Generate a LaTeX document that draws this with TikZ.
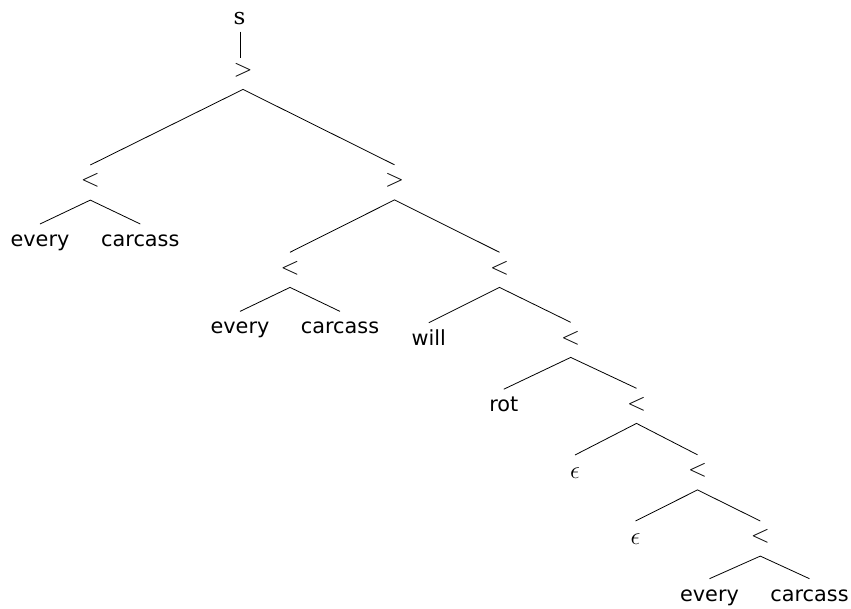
\documentclass[tikz,border=0pt]{standalone}
\usepackage{fontspec}
\usetikzlibrary{calc}
\newfontfamily\wordfont{DejaVu Sans}
\newfontfamily\rootfont{DejaVu Serif}
\begin{document}
\begin{tikzpicture}[x=1pt,y=-1pt,
  sym/.style={inner sep=0pt, font=\fontsize{27.8}{30}\selectfont},
  rootlbl/.style={inner sep=0pt, anchor=base, font=\rootfont\fontsize{23}{26}\selectfont},
  word/.style={inner sep=0pt, anchor=base, font=\wordfont\fontsize{20.8}{24}\selectfont},
  eps/.style={inner sep=0pt, anchor=base, font=\fontsize{26}{28}\selectfont},
  edge/.style={line width=0.8pt}]
\useasboundingbox (0,0) rectangle (851,608);
\fill[white] (0,0) rectangle (851,608);

\node[rootlbl] (s) at (239.5,24.5) {s};
\node[sym] (n0) at (243,70) {$>$};
\node[sym] (n1) at (90.3,180.7) {$<$};
\node[word] (w1) at (40,246.3) {every};
\node[word] (w2) at (140.3,246.3) {carcass};
\node[sym] (n2) at (394.5,180.5) {$>$};
\node[sym] (n3) at (290,268) {$<$};
\node[word] (w3) at (240,333.7) {every};
\node[word] (w4) at (340,333.7) {carcass};
\node[sym] (n4) at (499.5,268) {$<$};
\node[word] (w5) at (428.8,345) {will};
\node[sym] (n5) at (570.7,338) {$<$};
\node[word] (w6) at (503.8,411.5) {rot};
\node[sym] (n6) at (636.5,404) {$<$};
\node[eps] (e1) at (575,478) {$\epsilon$};
\node[sym] (n7) at (697.5,470.5) {$<$};
\node[eps] (e2) at (635.5,544) {$\epsilon$};
\node[sym] (n8) at (760.3,536.7) {$<$};
\node[word] (w7) at (709.5,601) {every};
\node[word] (w8) at (809.5,601) {carcass};

\draw[edge] ([xshift=0.8pt,yshift=-7pt]s.base) -- ($(s.base |- n0.center)+(0.8,-11.7)$);
% parent apex to children
\draw[edge] ([yshift=15.7pt]n1.center) -- ([yshift=-19.4pt]n0.center) -- ([yshift=15.7pt]n2.center);
\draw[edge] ([yshift=22.3pt]w1.base) -- ([yshift=-19.4pt]n1.center) -- ([yshift=22.3pt]w2.base);
\draw[edge] ([yshift=15.7pt]n3.center) -- ([yshift=-19.4pt]n2.center) -- ([yshift=15.7pt]n4.center);
\draw[edge] ([yshift=22.3pt]w3.base) -- ([yshift=-19.4pt]n3.center) -- ([yshift=22.3pt]w4.base);
\draw[edge] ([yshift=22.3pt]w5.base) -- ([yshift=-19.4pt]n4.center) -- ([yshift=15.7pt]n5.center);
\draw[edge] ([yshift=22.3pt]w6.base) -- ([yshift=-19.4pt]n5.center) -- ([yshift=15.7pt]n6.center);
\draw[edge] ([yshift=23pt]e1.base) -- ([yshift=-19.4pt]n6.center) -- ([yshift=15.7pt]n7.center);
\draw[edge] ([yshift=23pt]e2.base) -- ([yshift=-19.4pt]n7.center) -- ([yshift=15.7pt]n8.center);
\draw[edge] ([yshift=22.3pt]w7.base) -- ([yshift=-19.4pt]n8.center) -- ([yshift=22.3pt]w8.base);
\end{tikzpicture}
\end{document}
